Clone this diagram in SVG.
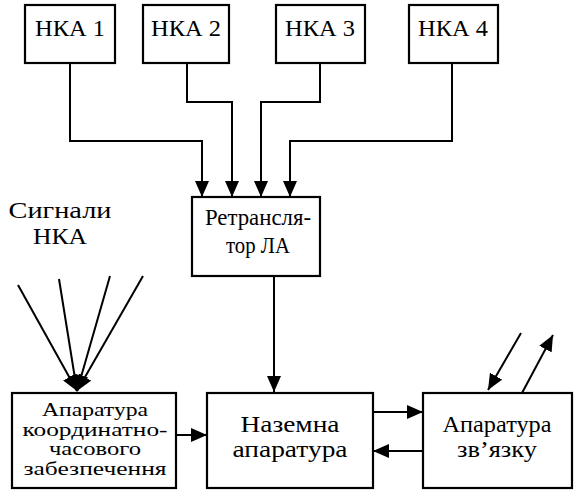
<svg xmlns="http://www.w3.org/2000/svg" width="582" height="496" viewBox="0 0 582 496" font-family="'Liberation Serif', 'Times New Roman', Times, serif">
<style>
text{fill:#000;text-anchor:middle}
.box{fill:#fff;stroke:#000;stroke-width:2.2}
.t{font-size:24px}
.ts{font-size:23px}
.tc{font-size:18.5px}
.ln{fill:none;stroke:#000;stroke-width:2}
.ar{marker-end:url(#ah)}
</style>
<defs>
<marker id="ah" markerUnits="userSpaceOnUse" markerWidth="16" markerHeight="14" refX="16" refY="7" orient="auto">
<path d="M0,0 L16,7 L0,14 z" fill="#000"/>
</marker>
</defs>
<rect width="582" height="496" fill="#fff"/>
<g id="connectors">
<path class="ln ar" d="M70,63 V141 H202 V197"/>
<path class="ln ar" d="M187,63 V102 H232 V197"/>
<path class="ln ar" d="M320,63 V102 H261 V197"/>
<path class="ln ar" d="M452,63 V141 H290 V197"/>
<path class="ln ar" d="M274,276 V392"/>
<path class="ln ar" d="M18,285 L77,391"/>
<path class="ln ar" d="M59,279 L77,391"/>
<path class="ln ar" d="M110,276 L77,391"/>
<path class="ln ar" d="M143,276 L77,391"/>
<path class="ln ar" d="M176,435 H207"/>
<path class="ln ar" d="M373,412 H423"/>
<path class="ln ar" d="M423,451 H373"/>
<path class="ln ar" d="M521,333 L488,390"/>
<path class="ln ar" d="M522,393 L553,335"/>
</g>
<g id="nka1"><rect class="box" x="25" y="5" width="90" height="58"/><text class="t" x="70" y="36" textLength="70" lengthAdjust="spacingAndGlyphs">НКА 1</text></g>
<g id="nka2"><rect class="box" x="143" y="5" width="86" height="58"/><text class="t" x="186" y="36" textLength="70" lengthAdjust="spacingAndGlyphs">НКА 2</text></g>
<g id="nka3"><rect class="box" x="276" y="5" width="89" height="58"/><text class="t" x="320" y="36" textLength="70" lengthAdjust="spacingAndGlyphs">НКА 3</text></g>
<g id="nka4"><rect class="box" x="409" y="5" width="89" height="58"/><text class="t" x="453" y="36" textLength="70" lengthAdjust="spacingAndGlyphs">НКА 4</text></g>
<g id="relay"><rect class="box" x="192" y="197" width="128" height="79"/><text class="ts" x="258" y="225" textLength="106" lengthAdjust="spacingAndGlyphs">Ретрансля-</text><text class="ts" x="258" y="253" textLength="64" lengthAdjust="spacingAndGlyphs">тор ЛА</text></g>
<g id="signals"><text class="ts" x="60" y="218" textLength="103" lengthAdjust="spacingAndGlyphs">Сигнали</text><text class="ts" x="60" y="244" textLength="54" lengthAdjust="spacingAndGlyphs">НКА</text></g>
<g id="coord"><rect class="box" x="12" y="393" width="164" height="95"/><text class="tc" x="95" y="416" textLength="106" lengthAdjust="spacingAndGlyphs">Апаратура</text><text class="tc" x="95" y="435.5" textLength="145" lengthAdjust="spacingAndGlyphs">координатно-</text><text class="tc" x="95" y="455" textLength="92" lengthAdjust="spacingAndGlyphs">часового</text><text class="tc" x="95" y="474.5" textLength="143" lengthAdjust="spacingAndGlyphs">забезпечення</text></g>
<g id="ground"><rect class="box" x="207" y="393" width="166" height="95"/><text class="t" x="290" y="432" textLength="99" lengthAdjust="spacingAndGlyphs">Наземна</text><text class="t" x="290" y="457" textLength="115" lengthAdjust="spacingAndGlyphs">апаратура</text></g>
<g id="comm"><rect class="box" x="423" y="393" width="149" height="95"/><text class="t" x="497" y="432" textLength="109" lengthAdjust="spacingAndGlyphs">Апаратура</text><text class="t" x="497" y="457" textLength="80" lengthAdjust="spacingAndGlyphs">зв’язку</text></g>
</svg>
